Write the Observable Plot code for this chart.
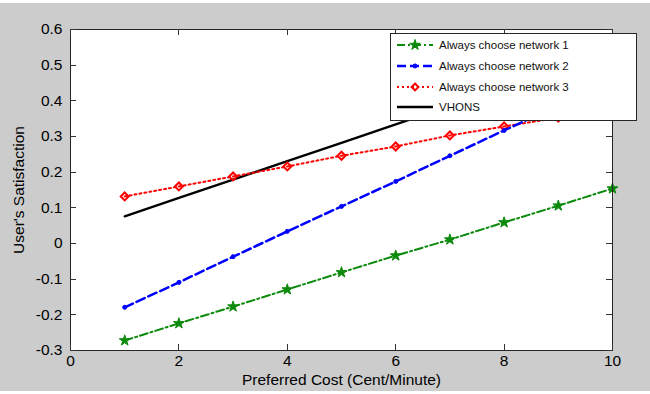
<!DOCTYPE html>
<html>
<head>
<meta charset="utf-8">
<script src="https://cdn.jsdelivr.net/npm/d3@7"></script>
<script src="https://cdn.jsdelivr.net/npm/@observablehq/plot@0.6"></script>
<style>
  html, body { margin: 0; padding: 0; background: #ffffff; }
  #chart { padding-top: 3px; width: 650px; }
  svg { display: block; }
</style>
</head>
<body>
<div id="chart"></div>
<script>
const cost = [1, 2, 3, 4, 5, 6, 7, 8, 9, 10];
const net1 = [-0.272, -0.224, -0.177, -0.129, -0.081, -0.034, 0.011, 0.059, 0.106, 0.154];
const net2 = [-0.179, -0.109, -0.037, 0.034, 0.104, 0.174, 0.246, 0.317, 0.387, 0.458];
const net3 = [0.132, 0.160, 0.188, 0.216, 0.246, 0.272, 0.303, 0.328, 0.353, 0.380];
const vhons = [0.076, 0.128, 0.179, 0.231, 0.282, 0.334, 0.385, 0.437, 0.488, 0.540];

const xTicks = [0, 2, 4, 6, 8, 10];
const yTicks = [-0.3, -0.2, -0.1, 0, 0.1, 0.2, 0.3, 0.4, 0.5, 0.6];

const seriesNames = ["Always choose network 1", "Always choose network 2", "Always choose network 3", "VHONS"];

const toRows = (vals) => cost.map((c, i) => ({x: c, y: vals[i]}));
const d1 = toRows(net1), d2 = toRows(net2), d3r = toRows(net3), d4 = toRows(vhons);

const GREEN = "#0b8a0b", BLUE = "#0000ff", RED = "#ff0000", BLACK = "#000000";
const AX = "#262626";
const fmt = d => String(+(+d).toFixed(1));

const W = 650, H = 388, ML = 70, MR = 38, MT = 26, MB = 41;
const TK = 6;

const plot = Plot.plot({
  width: W,
  height: H,
  marginLeft: ML,
  marginRight: MR,
  marginTop: MT,
  marginBottom: MB,
  style: {background: "#cccccc", fontFamily: "Liberation Sans, Arial, sans-serif", fontSize: "16px", color: "#000"},
  x: {domain: [0, 10]},
  y: {domain: [-0.3, 0.6]},
  marks: [
    Plot.frame({fill: "white"}),
    Plot.line(d4, {x: "x", y: "y", stroke: BLACK, strokeWidth: 2.3}),
    Plot.line(d3r, {x: "x", y: "y", stroke: RED, strokeWidth: 2, strokeDasharray: "2,3"}),
    Plot.dot(d3r, {x: "x", y: "y", symbol: "diamond2", r: 3.6, stroke: RED, strokeWidth: 2, fill: "none"}),
    Plot.line(d2, {x: "x", y: "y", stroke: BLUE, strokeWidth: 2.5, strokeDasharray: "9,4"}),
    Plot.dot(d2, {x: "x", y: "y", r: 2, fill: BLUE, stroke: BLUE, strokeWidth: 1}),
    Plot.line(d1, {x: "x", y: "y", stroke: GREEN, strokeWidth: 2, strokeDasharray: "8,3,2,3"}),
    Plot.dot(d1, {x: "x", y: "y", symbol: "star", r: 3.4, fill: GREEN, stroke: GREEN, strokeWidth: 1}),
    // tick labels and axis titles
    Plot.axisX({ticks: xTicks, tickSize: 0, tickPadding: 4, tickFormat: fmt, fill: "#000", fontSize: 15.5,
      label: "Preferred Cost (Cent/Minute)", labelAnchor: "center", labelArrow: "none", labelOffset: 34}),
    Plot.axisY({ticks: yTicks, tickSize: 0, tickPadding: 8, tickFormat: fmt, fill: "#000", fontSize: 15.5,
      label: "User's Satisfaction", labelAnchor: "center", labelArrow: "none", labelOffset: 58}),
    Plot.frame({stroke: AX, strokeWidth: 1})
  ]
});

document.getElementById("chart").appendChild(plot);

const svg = d3.select(plot);

// Inward tick marks on all four sides, placed with the plot's own scales
const sx = plot.scale("x"), sy = plot.scale("y");
const x0 = ML, x1 = W - MR, y0 = MT, y1 = H - MB;
const tg = svg.append("g").attr("stroke", "#333").attr("stroke-width", 1);
xTicks.forEach(v => {
  const px = Math.round(sx.apply(v)) + 0.5;
  tg.append("line").attr("x1", px).attr("x2", px).attr("y1", y1).attr("y2", y1 - TK);
  tg.append("line").attr("x1", px).attr("x2", px).attr("y1", y0).attr("y2", y0 + TK);
});
yTicks.forEach(v => {
  const py = Math.round(sy.apply(v)) + 0.5;
  tg.append("line").attr("x1", x0).attr("x2", x0 + TK).attr("y1", py).attr("y2", py);
  tg.append("line").attr("x1", x1).attr("x2", x1 - TK).attr("y1", py).attr("y2", py);
});

// Legend box (drawn on top, like MATLAB)
const lg = svg.append("g")
  .attr("font-family", "Liberation Sans, Arial, sans-serif")
  .attr("font-size", 11.5)
  .attr("text-anchor", "start");
lg.append("rect").attr("x", 390.5).attr("y", 30.5).attr("width", 246).attr("height", 87)
  .attr("fill", "white").attr("stroke", AX).attr("stroke-width", 1);
const styles = [
  {stroke: GREEN, w: 2, dash: "8,3,2,3", sym: d3.symbolStar, size: 34, fill: GREEN},
  {stroke: BLUE, w: 2.5, dash: "9,4", sym: d3.symbolCircle, size: 13, fill: BLUE},
  {stroke: RED, w: 2, dash: "2,3", sym: d3.symbolDiamond2, size: 30, fill: "none"},
  {stroke: BLACK, w: 2.3, dash: null, sym: null}
];
const rowY = [42, 63, 84, 104];
seriesNames.forEach((name, i) => {
  const s = styles[i];
  const y = rowY[i];
  const ln = lg.append("line").attr("x1", 397).attr("x2", 433).attr("y1", y).attr("y2", y)
    .attr("stroke", s.stroke).attr("stroke-width", s.w);
  if (s.dash) ln.attr("stroke-dasharray", s.dash);
  if (s.sym) {
    lg.append("path").attr("d", d3.symbol(s.sym, s.size)())
      .attr("transform", `translate(415,${y})`)
      .attr("fill", s.fill).attr("stroke", s.stroke).attr("stroke-width", s.fill === "none" ? 2 : 1);
  }
  lg.append("text").attr("x", 439).attr("y", y).attr("dy", "0.35em").attr("fill", "#111")
    .attr("text-anchor", "start").text(name);
});
</script>
</body>
</html>
